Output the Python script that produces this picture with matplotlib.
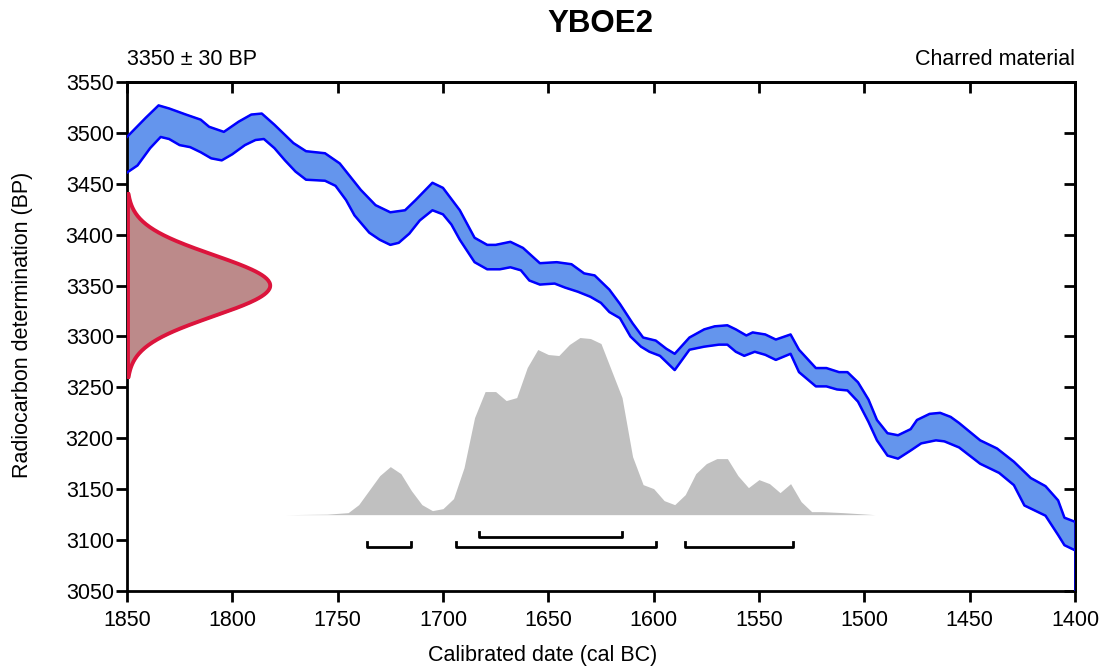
import numpy as np
import matplotlib.pyplot as plt

plt.rcParams['font.family'] = ['Liberation Sans', 'DejaVu Sans']

# Calibration curve band (upper / lower edge), cal BC vs BP
upper_yr = [1850, 1841, 1835, 1830, 1822, 1815, 1811, 1804, 1797, 1791, 1786, 1780, 1771, 1765, 1756,
            1749, 1739, 1732, 1725, 1718, 1713, 1705, 1700, 1692, 1685, 1679, 1675, 1668, 1662, 1654,
            1646, 1639, 1633, 1628, 1621, 1616, 1610, 1605, 1599, 1594, 1590, 1583, 1576, 1571, 1565,
            1561, 1556, 1553, 1547, 1542, 1535, 1531, 1523, 1518, 1512, 1508, 1503, 1498, 1494, 1489,
            1484, 1478, 1475, 1469, 1464, 1459, 1455, 1445, 1437, 1429, 1421, 1414, 1408, 1405, 1400]
upper_bp = [3496, 3515, 3527, 3524, 3518, 3513, 3506, 3501, 3511, 3518, 3519, 3508, 3490, 3482, 3480,
            3470, 3444, 3429, 3422, 3424, 3434, 3451, 3446, 3424, 3397, 3390, 3390, 3393, 3387, 3372,
            3373, 3371, 3362, 3360, 3346, 3332, 3313, 3299, 3296, 3288, 3283, 3299, 3307, 3310, 3311,
            3307, 3301, 3304, 3302, 3297, 3302, 3287, 3269, 3269, 3265, 3265, 3255, 3238, 3218, 3205,
            3203, 3209, 3218, 3224, 3225, 3221, 3215, 3198, 3190, 3177, 3161, 3153, 3139, 3122, 3118]

lower_yr = [1850, 1845, 1839, 1834, 1830, 1825, 1820, 1815, 1810, 1805, 1800, 1794, 1789, 1785, 1780,
            1775, 1770, 1765, 1756, 1751, 1746, 1742, 1735, 1730, 1725, 1721, 1716, 1711, 1705, 1700,
            1696, 1692, 1685, 1679, 1673, 1668, 1663, 1659, 1654, 1647, 1642, 1636, 1630, 1625, 1621,
            1616, 1611, 1606, 1602, 1597, 1590, 1583, 1576, 1569, 1565, 1561, 1557, 1552, 1547, 1542,
            1535, 1531, 1523, 1518, 1513, 1508, 1503, 1498, 1494, 1489, 1484, 1478, 1473, 1466, 1462,
            1455, 1450, 1445, 1440, 1436, 1429, 1424, 1419, 1414, 1408, 1405, 1400]
lower_bp = [3461, 3468, 3485, 3496, 3494, 3488, 3486, 3481, 3475, 3473, 3479, 3488, 3493, 3494, 3485,
            3473, 3462, 3454, 3453, 3448, 3434, 3419, 3402, 3395, 3390, 3392, 3401, 3414, 3424, 3420,
            3410, 3395, 3373, 3366, 3366, 3368, 3365, 3355, 3351, 3352, 3348, 3344, 3339, 3333, 3324,
            3318, 3300, 3290, 3285, 3281, 3267, 3287, 3290, 3292, 3292, 3285, 3281, 3285, 3282, 3277,
            3283, 3265, 3251, 3251, 3248, 3247, 3236, 3216, 3198, 3183, 3180, 3188, 3195, 3198, 3197,
            3191, 3183, 3175, 3170, 3166, 3154, 3134, 3129, 3124, 3105, 3095, 3090]

# Calibrated probability distribution (relative)
post_yr = [1775, 1755, 1745, 1740, 1730, 1725, 1720, 1715, 1710, 1705, 1700, 1695, 1690, 1685, 1680,
           1675, 1670, 1665, 1660, 1655, 1650, 1645, 1640, 1635, 1630, 1625, 1620, 1615, 1610, 1605,
           1600, 1595, 1590, 1585, 1580, 1575, 1570, 1565, 1560, 1555, 1550, 1545, 1540, 1535, 1530,
           1525, 1520, 1515, 1510, 1495]
post_p = [0, 0.5, 2, 10, 39, 48, 41, 24, 10, 4, 6, 16, 47, 97, 123,
          123, 114, 117, 147, 165, 160, 159, 170, 177, 176, 171, 144, 117, 58, 30,
          26, 14, 10, 20, 41, 51, 56, 56, 39, 27, 35, 31, 22, 31, 13,
          3, 3, 2.5, 2, 0]

# Ranges (68.2% and 95.4%)
range68 = [(1683, 1615)]
range95 = [(1736, 1715), (1694, 1599), (1585, 1534)]

# Radiocarbon date
c14_mean = 3350
c14_err = 30

xticks = np.arange(1850, 1399, -50)
yticks = np.arange(3050, 3551, 50)

fig = plt.figure(figsize=(11.03, 6.66), dpi=100)
ax = fig.add_axes([0.1151, 0.1126, 0.8595, 0.7643])

# calibration curve band
band_x = np.concatenate([upper_yr, lower_yr[::-1]])
band_y = np.concatenate([upper_bp, lower_bp[::-1]])
ax.fill(band_x, band_y, color='#6495ED', zorder=2)
ax.plot(upper_yr, upper_bp, color='#0000FF', lw=1.8, zorder=3, solid_joinstyle='round')
ax.plot(lower_yr, lower_bp, color='#0000FF', lw=1.8, zorder=3, solid_joinstyle='round')
ax.plot([1400, 1400], [3050, upper_bp[-1]], color='#0000FF', lw=1.8, zorder=3)

# posterior
base = 3125
p = np.array(post_p, dtype=float)
ax.fill_between(post_yr, base, base + p / p.max() * 174, color='#C0C0C0', lw=0, zorder=1)

# ranges
for a, b in range68:
    ax.plot([a, a, b, b], [3108, 3103, 3103, 3108], color='black', lw=2, zorder=4)
for a, b in range95:
    ax.plot([a, a, b, b], [3098, 3093, 3093, 3098], color='black', lw=2, zorder=4)

# radiocarbon gaussian on the y axis
yy = np.linspace(c14_mean - 3 * c14_err, c14_mean + 3 * c14_err, 200)
gx = 1850 - 68 * np.exp(-0.5 * ((yy - c14_mean) / c14_err) ** 2)
ax.fill_betweenx(yy, 1850, gx, color='#BC8A8A', zorder=4)
ax.plot(gx, yy, color='#DC143C', lw=2.8, zorder=5, solid_capstyle='round')
ax.plot([1849.3, 1849.3], [yy[0], yy[-1]], color='#DC143C', lw=2.8, zorder=5)

ax.set_xlim(1850, 1400)
ax.set_ylim(3050, 3550)
ax.set_xticks(xticks)
ax.set_yticks(yticks)
ax.tick_params(direction='out', length=8, width=2, labelsize=15.5)
ax.tick_params(axis='x', pad=6)
ax.tick_params(axis='y', pad=1.5)
for s in ax.spines.values():
    s.set_linewidth(2)

top = ax.secondary_xaxis('top')
top.set_xticks(xticks)
top.tick_params(direction='in', length=8, width=2, labeltop=False)
top.spines['top'].set_linewidth(2)
right = ax.secondary_yaxis('right')
right.set_yticks(yticks)
right.tick_params(direction='in', length=8, width=2, labelright=False)
right.spines['right'].set_linewidth(2)

fig.text(543 / 1103, 1 - 655 / 666, 'Calibrated date (cal BC)', fontsize=15.5, ha='center', va='center')
fig.text(23 / 1103, 1 - 325 / 666, 'Radiocarbon determination (BP)', fontsize=15.5,
         rotation=90, ha='center', va='center')
ax.text(0, 1.033, '3350 ± 30 BP', transform=ax.transAxes, fontsize=15.5, ha='left', va='baseline')
ax.text(1, 1.033, 'Charred material', transform=ax.transAxes, fontsize=15.5, ha='right', va='baseline')
fig.text(600 / 1103, 1 - 24 / 666, 'YBOE2', fontsize=22.5, fontweight='bold', ha='center', va='center')

fig.savefig('out.png', dpi=100)
